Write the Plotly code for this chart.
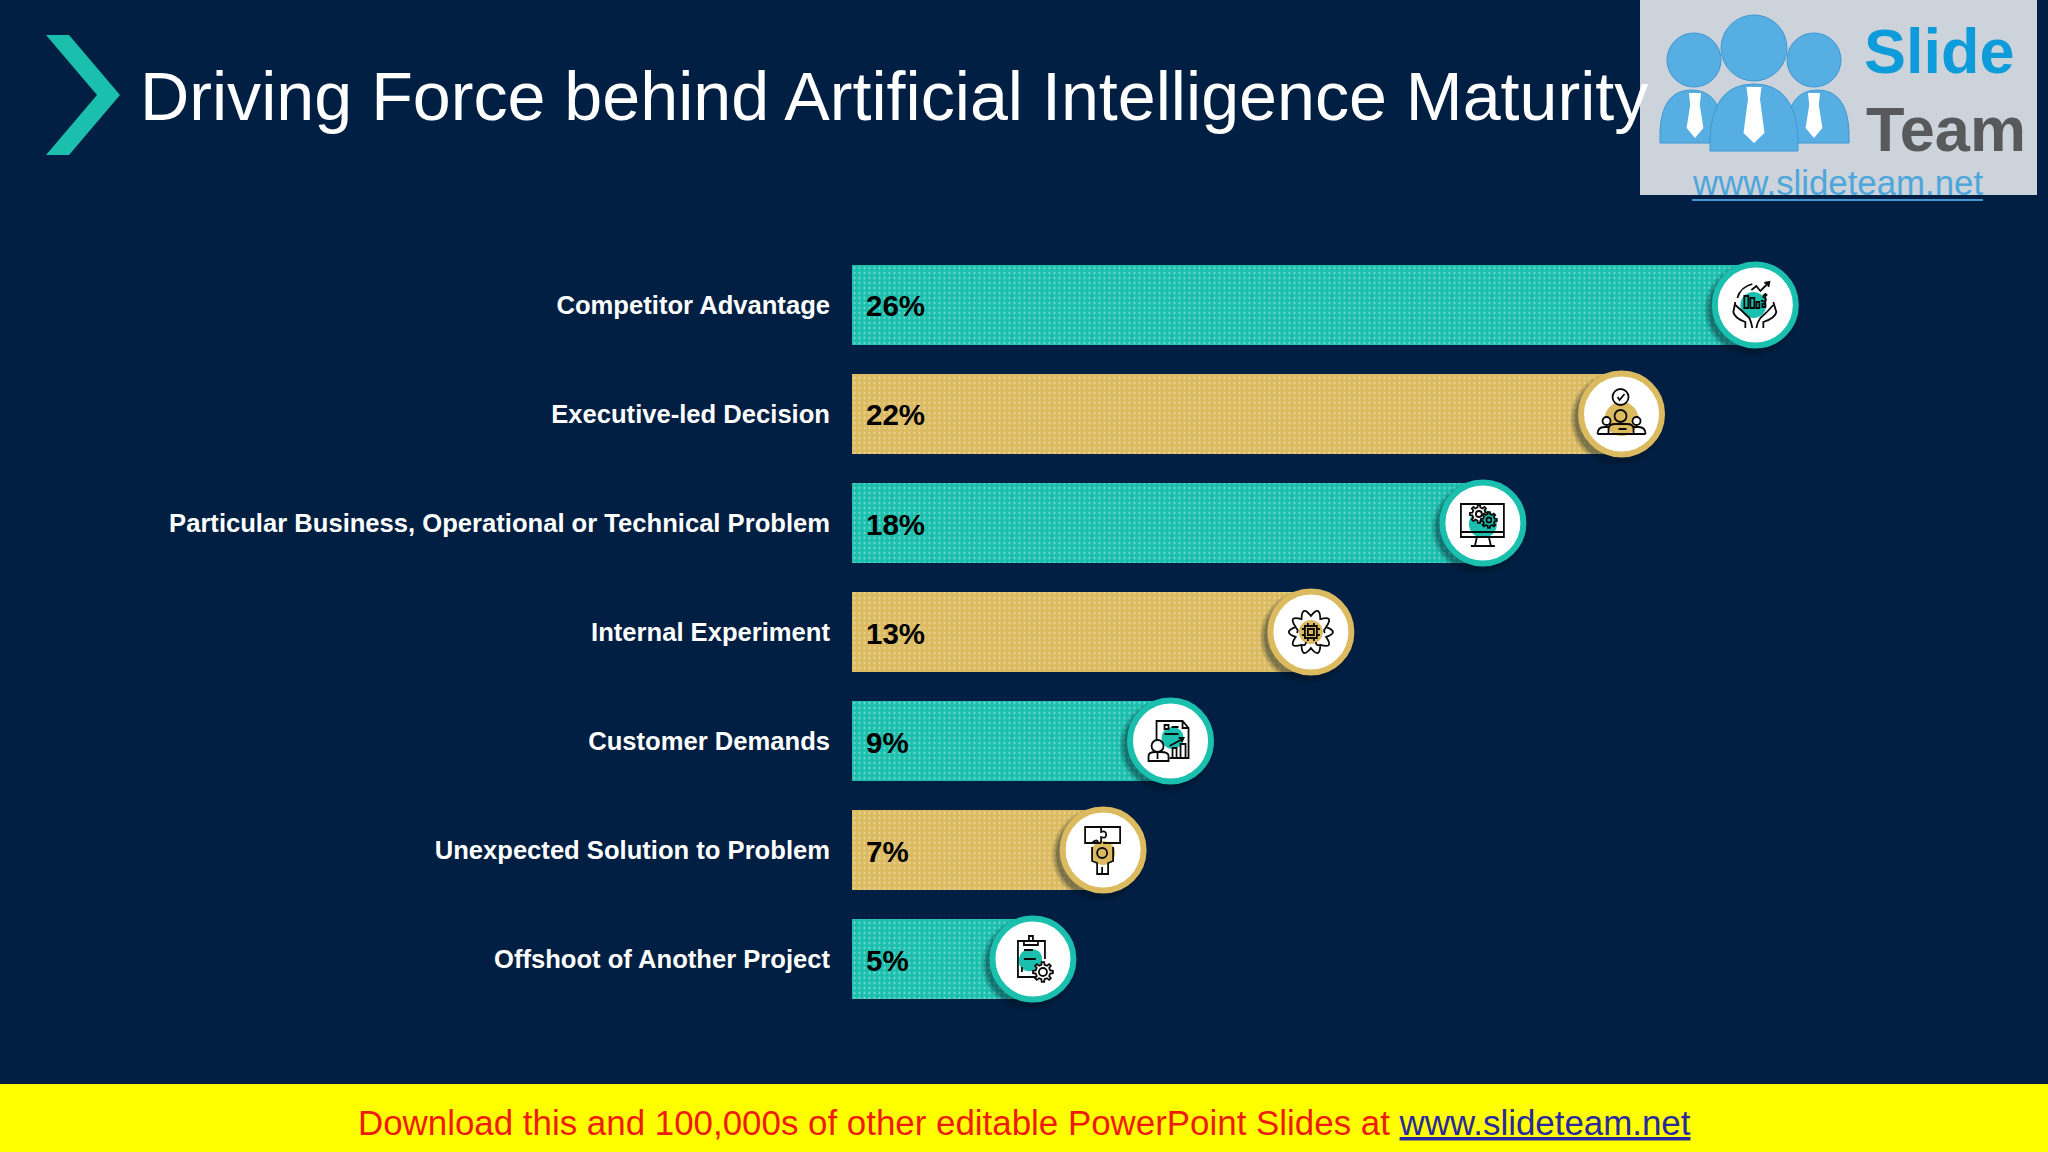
import math
import re
import plotly.graph_objects as go

categories = [
    "Competitor Advantage",
    "Executive-led Decision",
    "Particular Business, Operational or Technical Problem",
    "Internal Experiment",
    "Customer Demands",
    "Unexpected Solution to Problem",
    "Offshoot of Another Project",
]
values = [26, 22, 18, 13, 9, 7, 5]                    # printed percentages
bar_lengths = [26, 22.11, 18.08, 13.08, 9, 7.04, 5]   # lengths (labels are rounded)
title_text = "Driving Force behind Artificial Intelligence Maturity"
footer_text = "Download this and 100,000s of other editable PowerPoint Slides at "
footer_link = "www.slideteam.net"

TEAL = "#1BBFAD"
GOLD = "#DBBA60"
BG = "#001F42"
W, H = 2048, 1152
colors = [TEAL if i % 2 == 0 else GOLD for i in range(len(values))]
rows = list(range(len(values)))
HEAD_OFFSET = 0.26      # marker centre sits slightly past the bar end, in % units


def fx(p):
    return p / W


def fy(p):
    return 1 - p / H


def up(path):
    return re.sub(r"(-?[\d.]+),(-?[\d.]+)", lambda m: f"{m[1]},{-float(m[2])}", path)


def circle(cx, cy, r):
    k = 0.5523 * r
    return (f"M{cx-r},{cy} C{cx-r},{cy-k} {cx-k},{cy-r} {cx},{cy-r} "
            f"C{cx+k},{cy-r} {cx+r},{cy-k} {cx+r},{cy} "
            f"C{cx+r},{cy+k} {cx+k},{cy+r} {cx},{cy+r} "
            f"C{cx-k},{cy+r} {cx-r},{cy+k} {cx-r},{cy} Z")


def rect(x, y, w, h):
    return f"M{x},{y} L{x+w},{y} L{x+w},{y+h} L{x},{y+h} Z"


def gear(cx, cy, r, teeth=8):
    pts = []
    for t in range(teeth):
        a = 2 * math.pi * t / teeth
        s = math.pi / teeth
        for da, rr in ((-0.55 * s, r * 0.74), (-0.32 * s, r), (0.32 * s, r), (0.55 * s, r * 0.74)):
            pts.append((cx + rr * math.cos(a + da), cy + rr * math.sin(a + da)))
    return "M" + " L".join(f"{x:.2f},{y:.2f}" for x, y in pts) + " Z"


def lobes(cx, cy, r_in, r_ctrl, n):
    s = ""
    start = -math.pi / 2
    for t in range(n):
        a0 = start + 2 * math.pi * t / n
        a1 = start + 2 * math.pi * (t + 1) / n
        am = (a0 + a1) / 2
        x0, y0 = cx + r_in * math.cos(a0), cy + r_in * math.sin(a0)
        xm, ym = cx + r_ctrl * math.cos(am), cy + r_ctrl * math.sin(am)
        x1, y1 = cx + r_in * math.cos(a1), cy + r_in * math.sin(a1)
        s += (f"M{x0:.2f},{y0:.2f} " if t == 0 else "") + f"Q{xm:.2f},{ym:.2f} {x1:.2f},{y1:.2f} "
    return s + "Z"


# Each icon: list of (path, fill, stroke) in px around the marker centre, y downward
INK = "#0A0A0A"
WHITE = "#FFFFFF"
icons = [
    [  # globe, bars and hands
        (circle(-2, 0, 13), TEAL, None),
        (rect(-11, -9, 4, 12), None, INK), (rect(-5, -7, 4, 10), None, INK),
        (rect(1, -3, 3, 6), None, INK), (rect(7, -1, 3, 3), None, INK),
        ("M-18,-7 Q-15,-18 -3,-21", None, INK),
        ("M-4,-15 L1,-19 L5,-14 L10,-19 L13,-22 M9,-22 L14,-23 L13,-18", None, INK),
        ("M12,-10 Q7,-11 8,-8 Q12,-6 10,-4 Q7,-3 6,-5 M10,-12 L10,-2", None, INK),
        ("M-20,-3 L-22,7 Q-21,13 -10,17 L-10,23 M-20,0 Q-12,7 -6,13 Q-4,17 -3,23", None, INK),
        ("M18,-3 L21,7 Q20,13 8,17 L8,23 M18,0 Q12,7 5,13 Q2,17 1,23", None, INK),
    ],
    [  # team with check mark
        (circle(0, 5, 17), GOLD, None),
        (circle(-1, -17, 8), WHITE, INK),
        ("M-4,-17 L-2,-14 L3,-20", None, INK),
        (circle(-15, 7, 4), WHITE, INK), (circle(15, 7, 4), WHITE, INK),
        ("M-24,20 Q-24,13 -17,13 L-12,13 M24,20 Q24,13 17,13 L12,13", None, INK),
        (circle(-1, 2, 6), None, INK),
        ("M-13,20 L-13,15 Q-13,10 -6,10 L5,10 Q12,10 12,15 L12,20", None, INK),
        ("M-24,20 L24,20 M-3,15 L5,15", None, INK),
    ],
    [  # monitor with gears
        (circle(0, 1, 14), TEAL, None),
        (rect(-22, -19, 43, 33), None, INK),
        ("M-22,9 L21,9 M-6,14 L-8,23 M6,14 L8,23 M-12,23 L12,23", None, INK),
        (gear(-4, -9, 9), WHITE, INK), (circle(-4, -9, 3), None, INK),
        (gear(6, -3, 8), TEAL, INK), (circle(6, -3, 2.5), None, INK),
    ],
    [  # brain with chip
        (circle(0, 0, 12), GOLD, None),
        (lobes(0, 0, 16, 29, 10), None, INK),
        (rect(-6, -6, 12, 12), None, INK), (rect(-3, -3, 6, 6), None, INK),
        ("M-3,-9 L-3,-6 M3,-9 L3,-6 M-3,6 L-3,9 M3,6 L3,9 M-9,-3 L-6,-3 M-9,3 L-6,3 M6,-3 L9,-3 M6,3 L9,3",
         None, INK),
        ("M-15,-4 Q-12,-2 -14,1 M15,-4 Q12,-2 14,1 M-9,13 Q-5,14 -5,10 M9,13 Q5,14 5,10", None, INK),
    ],
    [  # report and person
        (circle(2, -3, 11), TEAL, None),
        ("M-14,-1 L-14,-20 L12,-20 L18,-13 L18,17 L-1,17 M12,-20 L12,-13 L18,-13", None, INK),
        (rect(-6, -16, 4, 4), None, INK), ("M1,-14 L8,-14 M-6,-7 L8,-7", None, INK),
        (rect(2, 7, 4, 10), None, INK), (rect(10, 3, 5, 14), None, INK),
        ("M-1,5 L12,-2 M8,-3 L13,-3 L11,1", None, INK),
        (circle(-13, 5, 6), WHITE, INK),
        ("M-22,20 L-22,15 Q-22,11 -15,11 L-10,11 Q-2,11 -2,15 L-2,20 Z M-13,11 L-13,18", WHITE, INK),
    ],
    [  # puzzle held up
        (circle(0, 3, 12), GOLD, None),
        ("M-2,-7 L-18,-7 L-18,-23 L17,-23 L17,-7 L0,-7 M-2,-23 L-2,-18 Q3,-20 3,-15 Q3,-11 -2,-13 L-2,-7",
         None, INK),
        ("M-11,-7 Q-6,-12 -5,-7", None, INK),
        (circle(-1, 3, 5), None, INK),
        ("M-11,-3 L-11,11 L-6,13 L-6,24 L5,24 L5,13 L10,11 L10,-3 M-1,17 L-1,24", None, INK),
    ],
    [  # clipboard and gear
        ("M-3,-10 Q10,-10 9,2 Q6,14 -6,12 Q-15,10 -14,0 Q-13,-9 -3,-10 Z", TEAL, None),
        ("M3,18 L-15,18 L-15,-18 L12,-18 L12,0", None, INK),
        (rect(-9, -18, 14, 4), None, INK),
        ("M-4,-18 L-4,-23 L0,-23 L0,-18", None, INK),
        ("M-9,-9 L0,-9 M-9,0 L3,0 M-11,8 L-11,13", None, INK),
        (gear(10, 13, 10), WHITE, INK), (circle(10, 13, 4), WHITE, INK),
    ],
]

fig = go.Figure()
# one trace per colour: white dot patterns only render correctly with a single marker colour
for col in (TEAL, GOLD):
    idx = [i for i, c in enumerate(colors) if c == col]
    fig.add_bar(
        x=[bar_lengths[i] for i in idx], y=[rows[i] for i in idx], orientation="h", width=80 / 109,
        marker=dict(
            color=col, line_width=0,
            pattern=dict(shape=".", fgcolor="#FFFFFF", bgcolor=col, size=5, solidity=0.15),
        ),
        hoverinfo="skip", showlegend=False,
    )

# soft shadow under the round end-caps
for sz, op in ((94, 0.12), (90, 0.16), (86, 0.22)):
    fig.add_scatter(
        x=[v + HEAD_OFFSET - 4 / 34.4 for v in bar_lengths],
        y=[r + 5 / 109 for r in rows],
        mode="markers",
        marker=dict(size=sz, color="#00101F", opacity=op, line_width=0),
        hoverinfo="skip", showlegend=False,
    )

fig.add_scatter(
    x=[v + HEAD_OFFSET for v in bar_lengths], y=rows, mode="markers",
    marker=dict(size=81, color="#FFFFFF", line=dict(color=colors, width=6)),
    hoverinfo="skip", showlegend=False,
)

shapes = []
# page furniture
shapes.append(dict(type="rect", xref="paper", yref="paper", x0=0, x1=1, y0=0, y1=fy(1084),
                   fillcolor="#FFFF00", line_width=0, layer="below"))
shapes.append(dict(type="path", xref="paper", yref="paper", layer="below", fillcolor=TEAL, line_width=0,
                   path="M{},{} L{},{} L{},{} L{},{} L{},{} L{},{} Z".format(
                       fx(46), fy(35), fx(69), fy(35), fx(120), fy(95),
                       fx(69), fy(155), fx(46), fy(155), fx(97), fy(95))))

# logo block
LOGO_BLUE = "#56AEE3"
LOGO_DARK = "#3F97D3"
shapes.append(dict(type="rect", xref="paper", yref="paper", x0=fx(1640), x1=fx(2037), y0=fy(195), y1=fy(0),
                   fillcolor="#CDD3DA", line_width=0))


def logo_circle(cx, cy, r):
    return dict(type="circle", xref="paper", yref="paper", x0=fx(cx - r), x1=fx(cx + r),
                y0=fy(cy + r), y1=fy(cy - r), fillcolor=LOGO_BLUE, line=dict(color=LOGO_DARK, width=1))


def logo_path(pts, fill=LOGO_BLUE):
    s = ""
    for p in pts:
        s += p[0] + " ".join(f"{fx(p[i])},{fy(p[i+1])}" for i in range(1, len(p), 2)) + " "
    return dict(type="path", xref="paper", yref="paper", path=s + "Z", fillcolor=fill,
                line=dict(color=LOGO_DARK, width=1) if fill != WHITE else dict(width=0))


def dome(x0, x1, top, bottom):
    mid = (x0 + x1) / 2
    return logo_path([("M", x0, bottom), ("L", x0, bottom - 12),
                      ("Q", x0 + 2, top, mid, top), ("Q", x1 - 2, top, x1, bottom - 12),
                      ("L", x1, bottom)])


def tie(cx, top, hw, bottom):
    return logo_path([("M", cx - hw * 0.75, top), ("L", cx + hw * 0.75, top), ("L", cx + hw * 0.6, top + 12),
                      ("L", cx + hw * 1.05, bottom - 10), ("L", cx, bottom), ("L", cx - hw * 1.05, bottom - 10),
                      ("L", cx - hw * 0.6, top + 12)], WHITE)


shapes += [logo_circle(1694, 60, 27), logo_circle(1814, 60, 27), logo_circle(1754, 48, 33),
           dome(1660, 1723, 90, 143), dome(1786, 1849, 90, 143), dome(1710, 1798, 84, 151),
           tie(1695, 93, 8, 138), tie(1814, 93, 8, 138), tie(1754, 87, 10, 143)]
shapes.append(dict(type="line", xref="paper", yref="paper", x0=fx(1692), x1=fx(1983), y0=fy(200), y1=fy(200),
                   line=dict(color="#3F97D3", width=2)))

# icons anchored to the bar ends
for val, row, icon in zip(bar_lengths, rows, icons):
    for path, fill, stroke in icon:
        s = dict(type="path", xref="x", yref="y", xsizemode="pixel", ysizemode="pixel",
                 xanchor=val + HEAD_OFFSET, yanchor=row, path=up(path),
                 line=dict(color=stroke, width=1.8) if stroke else dict(width=0))
        if fill:
            s["fillcolor"] = fill
        shapes.append(s)

annotations = [
    dict(text=title_text, xref="paper", yref="paper", x=fx(138), y=fy(96), xanchor="left", yanchor="middle",
         showarrow=False, font=dict(family="Liberation Sans", size=68.2, color="#FFFFFF")),
    dict(text=f'{footer_text}<span style="color:#2A2A9E"><u>{footer_link}</u></span>',
         xref="paper", yref="paper", x=fx(1024), y=fy(1122), xanchor="center", yanchor="middle",
         showarrow=False, font=dict(family="Liberation Sans", size=34.9, color="#EE1C0C")),
    dict(text="Slide", xref="paper", yref="paper", x=fx(1862), y=fy(51), xanchor="left", yanchor="middle",
         showarrow=False, font=dict(family="Liberation Sans", size=63, color="#0E9BD9", weight="bold")),
    dict(text="Team", xref="paper", yref="paper", x=fx(1864), y=fy(129), xanchor="left", yanchor="middle",
         showarrow=False, font=dict(family="Liberation Sans", size=63, color="#58595B", weight="bold")),
    dict(text=footer_link, xref="paper", yref="paper", x=fx(1690), y=fy(183), xanchor="left", yanchor="middle",
         showarrow=False, font=dict(family="Liberation Sans", size=34.8, color="#4DA6DC")),
]
for val, row in zip(values, rows):
    annotations.append(dict(text=f"<b>{val}%</b>", xref="x", yref="y", x=0, y=row, xanchor="left",
                            yanchor="middle", xshift=12, yshift=-1, showarrow=False,
                            font=dict(family="Liberation Sans", size=29.5, color="#000000")))

fig.update_layout(
    width=W, height=H, autosize=False,
    margin=dict(l=0, r=0, t=0, b=0),
    paper_bgcolor=BG, plot_bgcolor="rgba(0,0,0,0)",
    showlegend=False, barmode="overlay",
    shapes=shapes, annotations=annotations,
    xaxis=dict(domain=[fx(852), fx(1884)], range=[0, 30], visible=False, fixedrange=True),
    yaxis=dict(domain=[fy(1013.5), fy(250.5)], range=[6.5, -0.5], tickmode="array",
               tickvals=rows, ticktext=categories, showgrid=False, zeroline=False, showline=False,
               ticks="", ticklabelstandoff=21, fixedrange=True,
               tickfont=dict(family="Liberation Sans", size=25.6, color="#FFFFFF", weight="bold")),
)

fig.write_html("out.html", config={"displayModeBar": False},
               post_script="document.body.style.margin='0';document.body.style.background='#001F42';")
